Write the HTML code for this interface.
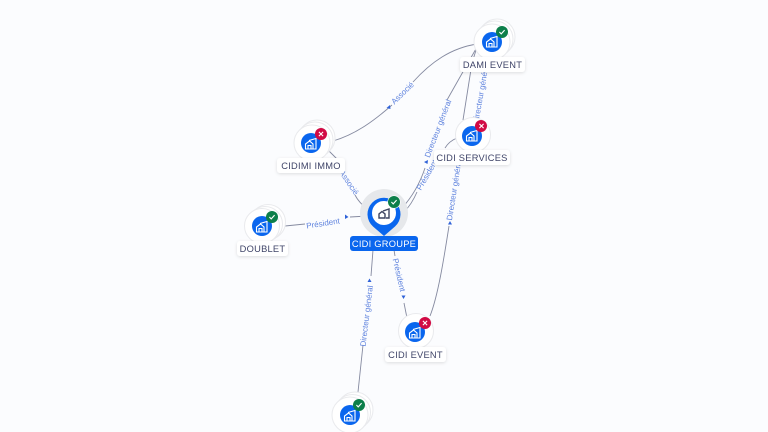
<!DOCTYPE html>
<html><head><meta charset="utf-8"><style>
html,body{margin:0;padding:0;background:#fbfcfe}
svg{display:block}
.e{fill:none;stroke:#858aa0;stroke-width:.9}
.l{font:8px "Liberation Sans",sans-serif;fill:#5f83de;text-anchor:middle}
.n{font:9.3px "Liberation Sans",sans-serif;fill:#3f4468;text-anchor:middle;letter-spacing:.25px}
.a{fill:#2f62d8}
.c{fill:#fff;stroke:#e9eaed;stroke-width:1}
.i{fill:none;stroke:#fff;stroke-width:1.1}
.k{fill:none;stroke:#fff;stroke-width:1.1}
</style></head><body>
<svg width="768" height="432" viewBox="0 0 768 432" xmlns="http://www.w3.org/2000/svg">
<defs>
<filter id="s" x="-20%" y="-40%" width="140%" height="200%"><feDropShadow dx="0" dy="1" stdDeviation="1.5" flood-color="#000" flood-opacity=".12"/></filter>
<g id="h"><path class="i" d="M-5.5,5V0L-1.5,-3L2,0V5ZM-3,5V1.5H0V5M-2,-3.5L5,-5.5V5H2"/></g>
<g id="ok"><path class="k" d="M-2.6,0L-.8,1.9L2.6,-1.9"/></g>
<g id="ko"><path class="k" d="M-2.1,-2.1L2.1,2.1M2.1,-2.1L-2.1,2.1"/></g>
</defs>

<!-- edges -->
<path class="e" d="M333,141C357,134 376,119 392,105M413,82C431,62 451,48 477,44"/>
<path class="e" d="M329,151L339,161M355,195C358,201 362,205 368,210"/>
<path class="e" d="M285,226L305,224M350,217L368,216"/>
<path class="e" d="M402,208C412,197 420,183 425,168M447,100L477,47"/>
<path class="e" d="M404,212C410,206 414,199 417,192M445,148C448,143 452,140 457,138"/>
<path class="e" d="M463,120L472,63L477,47"/>
<path class="e" d="M430,316C438,296 444,258 449,226"/>
<path class="e" d="M373,250L371,276M363,345L358,392"/>
<path class="e" d="M394,250L395,256M404,303L407,318"/>

<!-- edge labels -->
<text class="l" transform="translate(404.4,95) rotate(-44)">Associé</text>
<text class="l" transform="translate(346.8,184) rotate(56)">Associé</text>
<text class="l" transform="translate(323.4,226) rotate(-9)">Président</text>
<text class="l" transform="translate(440.5,129.5) rotate(-69)">Directeur général</text>
<text class="l" transform="translate(429.3,176.3) rotate(-60)">Président</text>
<text class="l" transform="translate(483.5,94) rotate(-80)">Directeur général</text>
<text class="l" transform="translate(456.7,190.4) rotate(-81)">Directeur général</text>
<text class="l" transform="translate(369.2,316.3) rotate(-83)">Directeur général</text>
<text class="l" transform="translate(396.4,275.6) rotate(77)">Président</text>

<!-- arrowheads -->
<path class="a" d="M390,105L386.5,108L390.5,109Z"/>
<path class="a" d="M345,214.5L348.5,217L345,219Z"/>
<path class="a" d="M428,160L424,162L427.5,164Z"/>
<path class="a" d="M450,221L448,224.5L452,224.5Z"/>
<path class="a" d="M369.5,278.5L367.5,282L371.5,282Z"/>
<path class="a" d="M401.5,295.5L405.5,295.5L403.5,299Z"/>

<!-- DAMI EVENT -->
<circle class="c" cx="497" cy="37" r="18"/><circle class="c" cx="495" cy="39" r="18"/><circle class="c" cx="492" cy="42" r="18"/>
<circle cx="492" cy="42" r="10" fill="#0a66ee"/><use href="#h" x="492" y="42"/>
<circle cx="502" cy="32" r="6" fill="#0d7f4a"/><use href="#ok" x="502" y="32"/>
<rect x="460" y="57" width="65" height="15" rx="3" fill="#fff" filter="url(#s)"/><text class="n" x="492.5" y="68">DAMI EVENT</text>

<!-- CIDI SERVICES -->
<circle class="c" cx="473" cy="135" r="17.5"/>
<circle cx="472" cy="136" r="10" fill="#0a66ee"/><use href="#h" x="472" y="136"/>
<circle cx="481" cy="126" r="6" fill="#d10a44"/><use href="#ko" x="481.500" y="126"/>
<rect x="434" y="150" width="76" height="15" rx="3" fill="#fff" filter="url(#s)"/><text class="n" x="472" y="161">CIDI SERVICES</text>

<!-- CIDIMI IMMO -->
<circle class="c" cx="317" cy="138" r="18"/><circle class="c" cx="315" cy="140" r="18"/><circle class="c" cx="312" cy="143" r="18"/>
<circle cx="311" cy="143" r="10" fill="#0a66ee"/><use href="#h" x="311" y="144"/>
<circle cx="321" cy="134" r="6" fill="#d10a44"/><use href="#ko" x="321" y="134"/>
<rect x="277" y="158" width="68" height="15" rx="3" fill="#fff" filter="url(#s)"/><text class="n" x="311" y="169">CIDIMI IMMO</text>

<!-- DOUBLET -->
<circle class="c" cx="268" cy="222" r="17.500"/><circle class="c" cx="265" cy="224" r="17.500"/><circle class="c" cx="262" cy="226" r="17.500"/>
<circle cx="262" cy="226" r="10" fill="#0a66ee"/><use href="#h" x="262" y="227"/>
<circle cx="272" cy="217" r="6" fill="#0d7f4a"/><use href="#ok" x="272" y="217"/>
<rect x="237" y="241" width="51" height="15" rx="3" fill="#fff" filter="url(#s)"/><text class="n" x="262.500" y="252">DOUBLET</text>

<!-- CIDI GROUPE -->
<circle cx="384" cy="213" r="24" fill="#e6e8eb"/>
<path d="M384,236L373,226.500A16.500,16.500 0 1 1 395,226.500Z" fill="#0a66ee"/>
<circle cx="384" cy="213" r="12" fill="#fff"/>
<path d="M379,218V214L382,211.500L385,214V218ZM383,211L389,209V218H386" fill="none" stroke="#3d4460" stroke-width="1.4"/>
<circle cx="394" cy="202" r="6.300" fill="#0d7f4a" stroke="#fff" stroke-width=".6"/><use href="#ok" x="394" y="202"/>
<rect x="350" y="236" width="68" height="15" rx="3" fill="#0a66ee"/><text class="n" x="384" y="247" style="fill:#fff">CIDI GROUPE</text>

<!-- CIDI EVENT -->
<circle class="c" cx="416" cy="331" r="17.500"/>
<circle cx="415" cy="332" r="10" fill="#0a66ee"/><use href="#h" x="415" y="333"/>
<circle cx="425" cy="323" r="6" fill="#d10a44"/><use href="#ko" x="425" y="323"/>
<rect x="385" y="347" width="61" height="15" rx="3" fill="#fff" filter="url(#s)"/><text class="n" x="415.500" y="358">CIDI EVENT</text>

<!-- bottom node -->
<circle class="c" cx="355" cy="410" r="18"/><circle class="c" cx="352.500" cy="412.500" r="18"/><circle class="c" cx="350" cy="415" r="18"/>
<circle cx="350" cy="415" r="10" fill="#0a66ee"/><use href="#h" x="350" y="416"/>
<circle cx="359" cy="405" r="6" fill="#0d7f4a"/><use href="#ok" x="359" y="405"/>
</svg>
</body></html>
